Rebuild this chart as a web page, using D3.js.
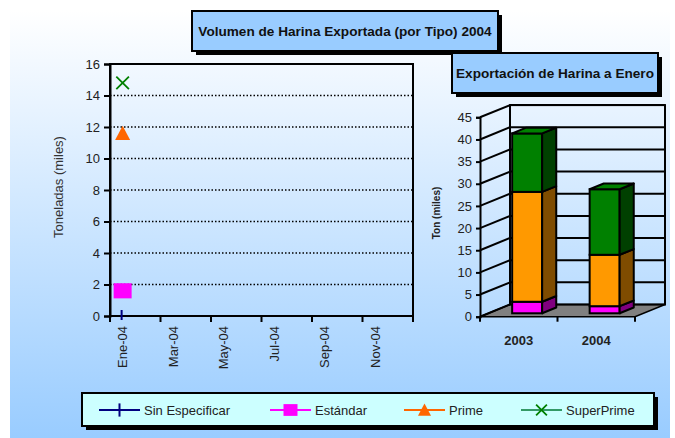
<!DOCTYPE html>
<html lang="es">
<head>
<meta charset="utf-8">
<title>Exportación de Harina</title>
<script src="https://cdn.jsdelivr.net/npm/d3@7"></script>
<style>
  body { margin: 0; background: #fff; }
  svg { display: block; font-family: "Liberation Sans", Arial, sans-serif; }
  .tick text { fill: #222; }
</style>
</head>
<body>
<div id="viz"></div>
<script>
// DATA
var months = ["Ene-04", "Feb-04", "Mar-04", "Abr-04", "May-04", "Jun-04",
              "Jul-04", "Ago-04", "Sep-04", "Oct-04", "Nov-04", "Dic-04"];
var yTicksLeft = [0, 2, 4, 6, 8, 10, 12, 14, 16];
var seriesNames = ["Sin Especificar", "Estándar", "Prime", "SuperPrime"];
// only January has values
var sinEspecificar = [0];
var estandar = [1.6];
var prime = [11.6];
var superPrime = [14.8];

var years = ["2003", "2004"];
var yTicksRight = [0, 5, 10, 15, 20, 25, 30, 35, 40, 45];
var sinEspYear = [0, 0];
var estandarYear = [2.6, 1.6];
var primeYear = [24.8, 11.6];
var superPrimeYear = [13.2, 14.8];

var W = 675, H = 438;

var svg = d3.select("#viz").append("svg")
  .attr("width", W).attr("height", H);

var defs = svg.append("defs");
var grad = defs.append("linearGradient").attr("id", "bg")
  .attr("x1", 0).attr("y1", 0).attr("x2", 0).attr("y2", 1);
grad.append("stop").attr("offset", "0%").attr("stop-color", "#ffffff");
grad.append("stop").attr("offset", "100%").attr("stop-color", "#99ccff");

svg.append("rect").attr("x", 10).attr("y", 10).attr("width", 660).attr("height", 428)
  .attr("fill", "url(#bg)");

function titleBox(x, y, w, h, fill, txt, size) {
  svg.append("rect").attr("x", x + 4).attr("y", y + 4).attr("width", w).attr("height", h).attr("fill", "#000");
  svg.append("rect").attr("x", x).attr("y", y).attr("width", w).attr("height", h)
    .attr("fill", fill).attr("stroke", "#000").attr("stroke-width", 2);
  if (txt) {
    svg.append("text").attr("x", x + w / 2).attr("y", y + h / 2).attr("dy", "0.35em")
      .attr("text-anchor", "middle").attr("font-weight", "bold").attr("font-size", size)
      .attr("fill", "#111").text(txt);
  }
}

// ---------------- LEFT CHART ----------------
var L = { x0: 110, x1: 413, y0: 316, y1: 64 };
var x = d3.scaleBand().domain(months).range([L.x0, L.x1]);
var y = d3.scaleLinear().domain([0, 16]).range([L.y0, L.y1]);

var gl = svg.append("g");

// dotted gridlines
gl.selectAll("line.grid").data(yTicksLeft.filter(function(d) { return d > 0 && d < 16; }))
  .enter().append("line")
  .attr("x1", L.x0).attr("x2", L.x1)
  .attr("y1", function(d) { return y(d); }).attr("y2", function(d) { return y(d); })
  .attr("stroke", "#000").attr("stroke-width", 1.5).attr("stroke-dasharray", "1.5,2");

// frame
gl.append("rect").attr("x", L.x0).attr("y", L.y1).attr("width", L.x1 - L.x0).attr("height", L.y0 - L.y1)
  .attr("fill", "none").attr("stroke", "#000").attr("stroke-width", 2);

var yAxisL = gl.append("g").attr("transform", "translate(" + L.x0 + ",0)")
  .call(d3.axisLeft(y).tickValues(yTicksLeft).tickSize(6).tickPadding(4));
yAxisL.select(".domain").attr("stroke-width", 2);
yAxisL.selectAll(".tick line").attr("stroke-width", 2);
yAxisL.selectAll(".tick text").attr("font-size", 13);

// x ticks every two months plus the end
var tickXs = months.filter(function(d, i) { return i % 2 === 0; }).map(function(d) { return x(d); });
tickXs.push(L.x1);
gl.selectAll("line.xt").data(tickXs).enter().append("line")
  .attr("x1", function(d) { return d; }).attr("x2", function(d) { return d; })
  .attr("y1", L.y0).attr("y2", L.y0 + 6)
  .attr("stroke", "#000").attr("stroke-width", 2);

gl.selectAll("text.xl").data(months.filter(function(d, i) { return i % 2 === 0; }))
  .enter().append("text")
  .attr("transform", function(d) { return "translate(" + (x(d) + x.bandwidth() / 2) + "," + (L.y0 + 10) + ") rotate(-90)"; })
  .attr("dy", "0.35em").attr("text-anchor", "end").attr("font-size", 13).attr("fill", "#222")
  .text(function(d) { return d; });

gl.append("text")
  .attr("transform", "translate(58," + ((L.y0 + L.y1) / 2 - 3) + ") rotate(-90)")
  .attr("text-anchor", "middle").attr("dy", "0.35em").attr("font-size", 13).attr("fill", "#333")
  .text("Toneladas (miles)");

// markers
var sym = {
  "Sin Especificar": { color: "#000080", line: "#000080" },
  "Estándar": { color: "#ff00ff", line: "#ff00ff" },
  "Prime": { color: "#ff6600", line: "#ff6600" },
  "SuperPrime": { color: "#008000", line: "#339966" }
};
function drawMarker(g, name, cx, cy, s) {
  var c = sym[name].color;
  if (name === "Sin Especificar") {
    g.append("line").attr("x1", cx).attr("x2", cx).attr("y1", cy - s * 0.55).attr("y2", cy + s * 0.55)
      .attr("stroke", c).attr("stroke-width", 2);
    g.append("line").attr("x1", cx - s * 0.55).attr("x2", cx + s * 0.55).attr("y1", cy).attr("y2", cy)
      .attr("stroke", c).attr("stroke-width", 2);
  } else if (name === "Estándar") {
    g.append("rect").attr("x", cx - s / 2).attr("y", cy - s * 0.42).attr("width", s).attr("height", s * 0.84).attr("fill", c);
  } else if (name === "Prime") {
    g.append("path").attr("d", "M" + cx + "," + (cy - s * 0.5) + "L" + (cx + s * 0.5) + "," + (cy + s * 0.45) + "L" + (cx - s * 0.5) + "," + (cy + s * 0.45) + "Z")
      .attr("fill", c);
  } else {
    var h = s * 0.45;
    g.append("path").attr("d", "M" + (cx - h) + "," + (cy - h) + "L" + (cx + h) + "," + (cy + h) + "M" + (cx + h) + "," + (cy - h) + "L" + (cx - h) + "," + (cy + h))
      .attr("stroke", c).attr("stroke-width", 1.8).attr("fill", "none");
  }
}
var cx0 = x(months[0]) + x.bandwidth() / 2;
// Sin Especificar at 0 shows only as a short vertical stroke on the axis
gl.append("line").attr("x1", cx0 - 1).attr("x2", cx0 - 1)
  .attr("y1", y(sinEspecificar[0]) - 6).attr("y2", y(sinEspecificar[0]) + 4)
  .attr("stroke", "#000080").attr("stroke-width", 2);
drawMarker(gl, "Estándar", cx0, y(estandar[0]), 18);
drawMarker(gl, "Prime", cx0, y(prime[0]), 15);
drawMarker(gl, "SuperPrime", cx0, y(superPrime[0]), 14);

// ---------------- RIGHT CHART (3D stacked) ----------------
var R = { x0: 480, x1: 635, y0: 316.7, y1: 117.3, dx: 30, dy: -12.2 };
var yr = d3.scaleLinear().domain([0, 45]).range([R.y0, R.y1]);
var xr = d3.scaleBand().domain(years).range([R.x0, R.x1]);
var gr = svg.append("g");

// floor
gr.append("path")
  .attr("d", "M" + R.x0 + "," + R.y0 + "L" + R.x1 + "," + R.y0 + "L" + (R.x1 + R.dx) + "," + (R.y0 + R.dy) +
        "L" + (R.x0 + R.dx) + "," + (R.y0 + R.dy) + "Z")
  .attr("fill", "#808080").attr("stroke", "#000").attr("stroke-width", 1.5);

// back wall
gr.append("rect").attr("x", R.x0 + R.dx).attr("y", R.y1 + R.dy)
  .attr("width", R.x1 - R.x0).attr("height", R.y0 - R.y1)
  .attr("fill", "none").attr("stroke", "#000").attr("stroke-width", 2);

// gridlines on back wall and side wall
gr.selectAll("line.bw").data(yTicksRight.slice(1)).enter().append("line")
  .attr("x1", R.x0 + R.dx).attr("x2", R.x1 + R.dx)
  .attr("y1", function(d) { return yr(d) + R.dy; }).attr("y2", function(d) { return yr(d) + R.dy; })
  .attr("stroke", "#000").attr("stroke-width", 2);
gr.selectAll("line.sw").data(yTicksRight).enter().append("line")
  .attr("x1", R.x0).attr("x2", R.x0 + R.dx)
  .attr("y1", function(d) { return yr(d); }).attr("y2", function(d) { return yr(d) + R.dy; })
  .attr("stroke", "#000").attr("stroke-width", 2);

// bars
var stacks = [
  { name: "Sin Especificar", vals: sinEspYear, front: "#000080", side: "#000040" },
  { name: "Estándar", vals: estandarYear, front: "#ff00ff", side: "#800080" },
  { name: "Prime", vals: primeYear, front: "#ff9900", side: "#7f4c00" },
  { name: "SuperPrime", vals: superPrimeYear, front: "#008000", side: "#004000" }
];
var t0 = 0.28, t1 = 0.75, bw = 30;
years.forEach(function(yrName, i) {
  var cx = xr(yrName) + xr.bandwidth() / 2;
  var ox = R.dx * t0, oy = R.dy * t0;
  var ddx = R.dx * (t1 - t0), ddy = R.dy * (t1 - t0);
  var xa = cx + ox - bw / 2, xb = cx + ox + bw / 2;
  var base = 0;
  var lastTop = null;
  stacks.forEach(function(s) {
    var v = s.vals[i];
    if (v <= 0) return;
    var yb = yr(base) + oy, yt = yr(base + v) + oy;
    gr.append("rect").attr("x", xa).attr("y", yt).attr("width", bw).attr("height", yb - yt)
      .attr("fill", s.front).attr("stroke", "#000").attr("stroke-width", 2);
    gr.append("path")
      .attr("d", "M" + xb + "," + yb + "L" + (xb + ddx) + "," + (yb + ddy) + "L" + (xb + ddx) + "," + (yt + ddy) + "L" + xb + "," + yt + "Z")
      .attr("fill", s.side).attr("stroke", "#000").attr("stroke-width", 2).attr("stroke-linejoin", "round");
    lastTop = { y: yt, color: s.front };
    base += v;
  });
  if (lastTop) {
    var yt = lastTop.y;
    gr.append("path")
      .attr("d", "M" + xa + "," + yt + "L" + xb + "," + yt + "L" + (xb + ddx) + "," + (yt + ddy) + "L" + (xa + ddx) + "," + (yt + ddy) + "Z")
      .attr("fill", lastTop.color).attr("stroke", "#000").attr("stroke-width", 2).attr("stroke-linejoin", "round");
  }
});

var yAxisR = gr.append("g").attr("transform", "translate(" + R.x0 + ",0)")
  .call(d3.axisLeft(yr).tickValues(yTicksRight).tickSize(4).tickPadding(4));
yAxisR.select(".domain").attr("stroke-width", 2);
yAxisR.selectAll(".tick line").attr("stroke-width", 2);
yAxisR.selectAll(".tick text").attr("font-size", 13);

// category ticks
var rTicks = years.map(function(d) { return xr(d); }).concat([R.x1]);
gr.selectAll("line.ct").data(rTicks).enter().append("line")
  .attr("x1", function(d) { return d; }).attr("x2", function(d) { return d; })
  .attr("y1", R.y0).attr("y2", R.y0 + 5).attr("stroke", "#000").attr("stroke-width", 2);
gr.selectAll("text.cl").data(years).enter().append("text")
  .attr("x", function(d) { return xr(d) + xr.bandwidth() / 2; }).attr("y", 345)
  .attr("text-anchor", "middle").attr("font-weight", "bold").attr("font-size", 13).attr("fill", "#222")
  .text(function(d) { return d; });

gr.append("text")
  .attr("transform", "translate(436,213) rotate(-90)")
  .attr("text-anchor", "middle").attr("dy", "0.35em").attr("font-weight", "bold").attr("font-size", 10)
  .attr("fill", "#222").text("Ton (miles)");

// titles
titleBox(192, 11, 306, 40, "#99ccff", "Volumen de Harina Exportada (por Tipo) 2004", 13.6);
titleBox(452, 53, 206, 40, "#99ccff", "Exportación de Harina a Enero", 13.6);

// ---------------- LEGEND ----------------
titleBox(82, 393, 572, 33, "#ccffff", null);
var legX = [99, 270, 404, 521];
var lg = svg.append("g");
seriesNames.forEach(function(name, i) {
  var lx = legX[i], ly = 410;
  lg.append("line").attr("x1", lx).attr("x2", lx + 41).attr("y1", ly).attr("y2", ly)
    .attr("stroke", sym[name].line).attr("stroke-width", 2);
  var sz = name === "Sin Especificar" ? 12 : name === "Estándar" ? 14 : name === "Prime" ? 13 : 12;
  drawMarker(lg, name, lx + 20.5, ly, sz);
  lg.append("text").attr("x", lx + 45).attr("y", ly).attr("dy", "0.35em")
    .attr("font-size", 13).attr("fill", "#222").text(name);
});
</script>
</body>
</html>
